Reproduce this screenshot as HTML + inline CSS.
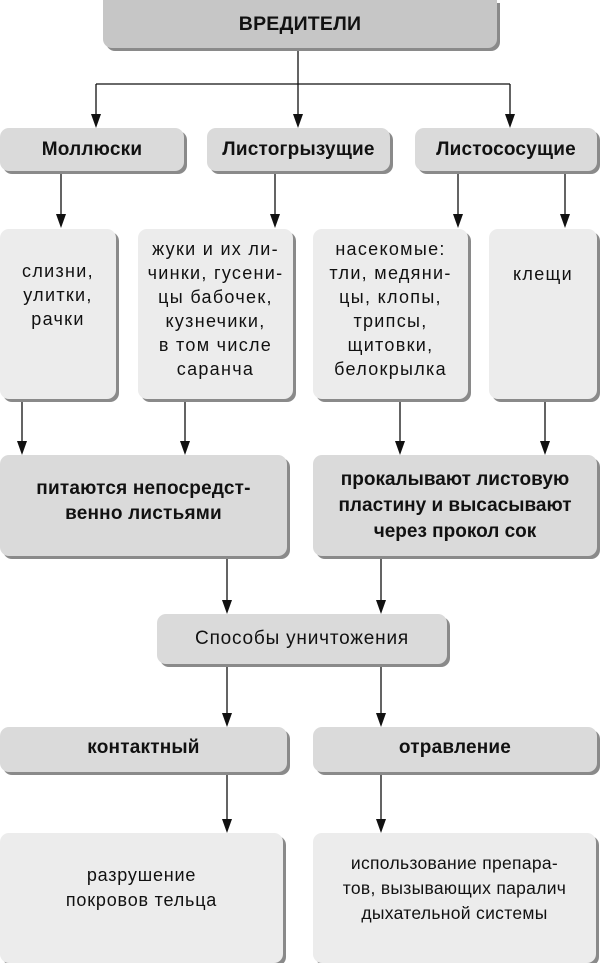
<!DOCTYPE html>
<html><head><meta charset="utf-8"><style>
body{margin:0;width:600px;height:951px;position:relative;background:#fff;overflow:hidden;font-family:"Liberation Sans","DejaVu Sans",sans-serif;color:#111}
.b{position:absolute;box-sizing:border-box;border-radius:9px;box-shadow:3px 3px 0 #8a8a8a;display:flex;align-items:center;justify-content:center;text-align:center;white-space:nowrap}
.h{font-weight:bold;font-size:19px;letter-spacing:0.2px}
.t{font-size:18px;letter-spacing:1.3px;line-height:24px;align-items:flex-start}
svg{position:absolute;left:0;top:0}
</style></head><body>
<svg width="600" height="951"><path d="M298 50V84M96 84H510" stroke="#111" stroke-width="1.3" fill="none"/></svg>
<svg width="600" height="951" id="s"></svg>
<script>
var L=[[96,84,128],[298,84,128],[510,84,128],[61,172,228],[275,172,228],[458,172,228],[565,172,228],[22,400,455],[185,400,455],[400,400,455],[545,400,455],[227,558,614],[381,558,614],[227,665,727],[381,665,727],[227,773,833],[381,773,833]];
var h='';L.forEach(function(l){h+='<line x1="'+l[0]+'" y1="'+l[1]+'" x2="'+l[0]+'" y2="'+(l[2]-10)+'" stroke="#111" stroke-width="1.3"/><path d="M'+(l[0]-5)+' '+(l[2]-14)+'L'+(l[0]+5)+' '+(l[2]-14)+'L'+l[0]+' '+l[2]+'z" fill="#111"/>';});
document.getElementById('s').innerHTML=h;
</script>
<div class="b h" style="left:103px;top:0;width:394px;height:48px;background:#c6c6c6;border-radius:0 0 9px 9px;font-size:19.5px">ВРЕДИТЕЛИ</div>
<div class="b h" style="left:0;top:128px;width:184px;height:43px;background:#dadada">Моллюски</div>
<div class="b h" style="left:207px;top:128px;width:183px;height:43px;background:#dadada">Листогрызущие</div>
<div class="b h" style="left:415px;top:128px;width:182px;height:43px;background:#dadada">Листососущие</div>
<div class="b t" style="left:0;top:229px;width:116px;height:170px;background:#ececec;padding-top:30px">слизни,<br>улитки,<br>рачки</div>
<div class="b t" style="left:138px;top:229px;width:155px;height:170px;background:#ececec;padding-top:8px">жуки и их ли-<br>чинки, гусени-<br>цы бабочек,<br>кузнечики,<br>в том числе<br>саранча</div>
<div class="b t" style="left:313px;top:229px;width:155px;height:170px;background:#ececec;padding-top:8px">насекомые:<br>тли, медяни-<br>цы, клопы,<br>трипсы,<br>щитовки,<br>белокрылка</div>
<div class="b t" style="left:489px;top:229px;width:108px;height:170px;background:#ececec;padding-top:33px">клещи</div>
<div class="b h" style="left:0;top:455px;width:287px;height:101px;background:#dadada;line-height:25px;padding-bottom:10px">питаются непосредст-<br>венно листьями</div>
<div class="b h" style="left:313px;top:455px;width:284px;height:101px;background:#dadada;line-height:26px;letter-spacing:0">прокалывают листовую<br>пластину и высасывают<br>через прокол сок</div>
<div class="b" style="left:157px;top:614px;width:290px;height:50px;background:#dadada;font-size:19px;letter-spacing:0.8px">Способы уничтожения</div>
<div class="b h" style="left:0;top:727px;width:287px;height:45px;background:#dadada;padding-bottom:4px">контактный</div>
<div class="b h" style="left:313px;top:727px;width:284px;height:45px;background:#dadada;padding-bottom:4px">отравление</div>
<div class="b" style="left:0;top:833px;width:283px;height:130px;background:#ececec;font-size:18px;letter-spacing:0.8px;line-height:25px;padding-bottom:20px">разрушение<br>покровов тельца</div>
<div class="b" style="left:313px;top:833px;width:283px;height:130px;background:#ececec;font-size:17.5px;letter-spacing:0.3px;line-height:25px;padding-bottom:20px">использование препара-<br>тов, вызывающих паралич<br>дыхательной системы</div>
</body></html>
